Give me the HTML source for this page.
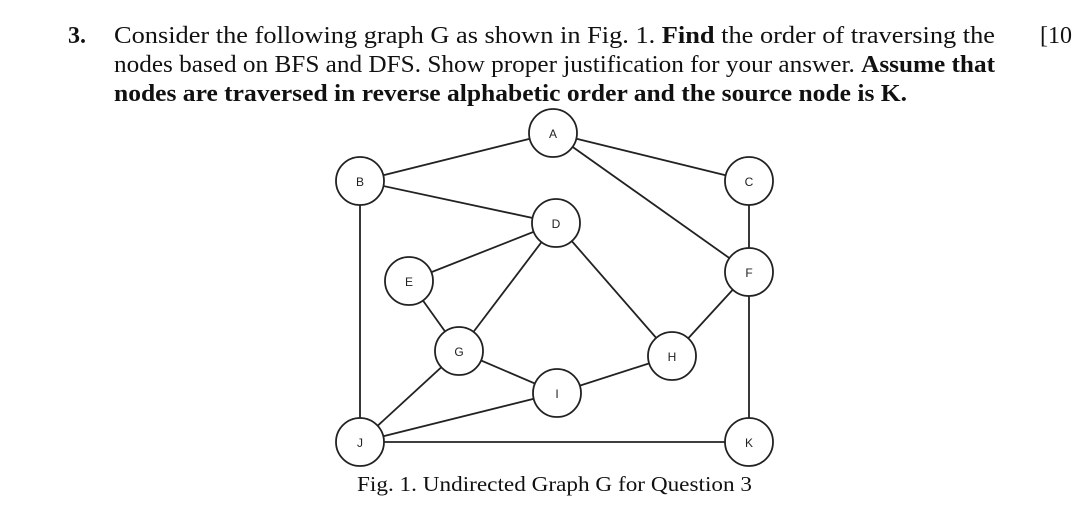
<!DOCTYPE html>
<html><head><meta charset="utf-8"><style>
html,body{margin:0;padding:0;background:#fff;}
svg{display:block;}
</style></head><body>
<svg width="1080" height="512" viewBox="0 0 1080 512" xmlns="http://www.w3.org/2000/svg" font-family="'Liberation Serif', serif">
<g font-size="24" fill="#111" font-family="'Liberation Serif', serif">
<text x="68" y="43" font-weight="bold">3.</text>
<text x="114" y="43" textLength="881" lengthAdjust="spacingAndGlyphs">Consider the following graph G as shown in Fig. 1. <tspan font-weight="bold">Find</tspan> the order of traversing the</text>
<text x="114" y="72" textLength="881" lengthAdjust="spacingAndGlyphs">nodes based on BFS and DFS. Show proper justification for your answer. <tspan font-weight="bold">Assume that</tspan></text>
<text x="114" y="101" font-weight="bold" textLength="793" lengthAdjust="spacingAndGlyphs">nodes are traversed in reverse alphabetic order and the source node is K.</text>
<text x="1040" y="43">[10</text>
</g>
<g stroke="#222" stroke-width="1.8" fill="none">
<line x1="553" y1="133" x2="360" y2="181"/>
<line x1="553" y1="133" x2="749" y2="181"/>
<line x1="553" y1="133" x2="749" y2="272"/>
<line x1="360" y1="181" x2="556" y2="223"/>
<line x1="360" y1="181" x2="360" y2="442"/>
<line x1="749" y1="181" x2="749" y2="272"/>
<line x1="556" y1="223" x2="409" y2="281"/>
<line x1="556" y1="223" x2="459" y2="351"/>
<line x1="556" y1="223" x2="672" y2="356"/>
<line x1="409" y1="281" x2="459" y2="351"/>
<line x1="459" y1="351" x2="557" y2="393"/>
<line x1="459" y1="351" x2="360" y2="442"/>
<line x1="557" y1="393" x2="672" y2="356"/>
<line x1="557" y1="393" x2="360" y2="442"/>
<line x1="672" y1="356" x2="749" y2="272"/>
<line x1="749" y1="272" x2="749" y2="442"/>
<line x1="360" y1="442" x2="749" y2="442"/>
</g>
<g stroke="#222" stroke-width="1.8" fill="#fff">
<circle cx="553" cy="133" r="24"/>
<circle cx="360" cy="181" r="24"/>
<circle cx="749" cy="181" r="24"/>
<circle cx="556" cy="223" r="24"/>
<circle cx="409" cy="281" r="24"/>
<circle cx="749" cy="272" r="24"/>
<circle cx="459" cy="351" r="24"/>
<circle cx="672" cy="356" r="24"/>
<circle cx="557" cy="393" r="24"/>
<circle cx="360" cy="442" r="24"/>
<circle cx="749" cy="442" r="24"/>
</g>
<g font-family="'Liberation Sans', sans-serif" font-size="12" fill="#222" text-anchor="middle">
<text x="553" y="138">A</text>
<text x="360" y="186">B</text>
<text x="749" y="186">C</text>
<text x="556" y="228">D</text>
<text x="409" y="286">E</text>
<text x="749" y="277">F</text>
<text x="459" y="356">G</text>
<text x="672" y="361">H</text>
<text x="557" y="398">I</text>
<text x="360" y="447">J</text>
<text x="749" y="447">K</text>
</g>
<text x="357" y="491" font-size="21" fill="#111" font-family="'Liberation Serif', serif" textLength="395" lengthAdjust="spacingAndGlyphs">Fig. 1. Undirected Graph G for Question 3</text>
</svg>
</body></html>
